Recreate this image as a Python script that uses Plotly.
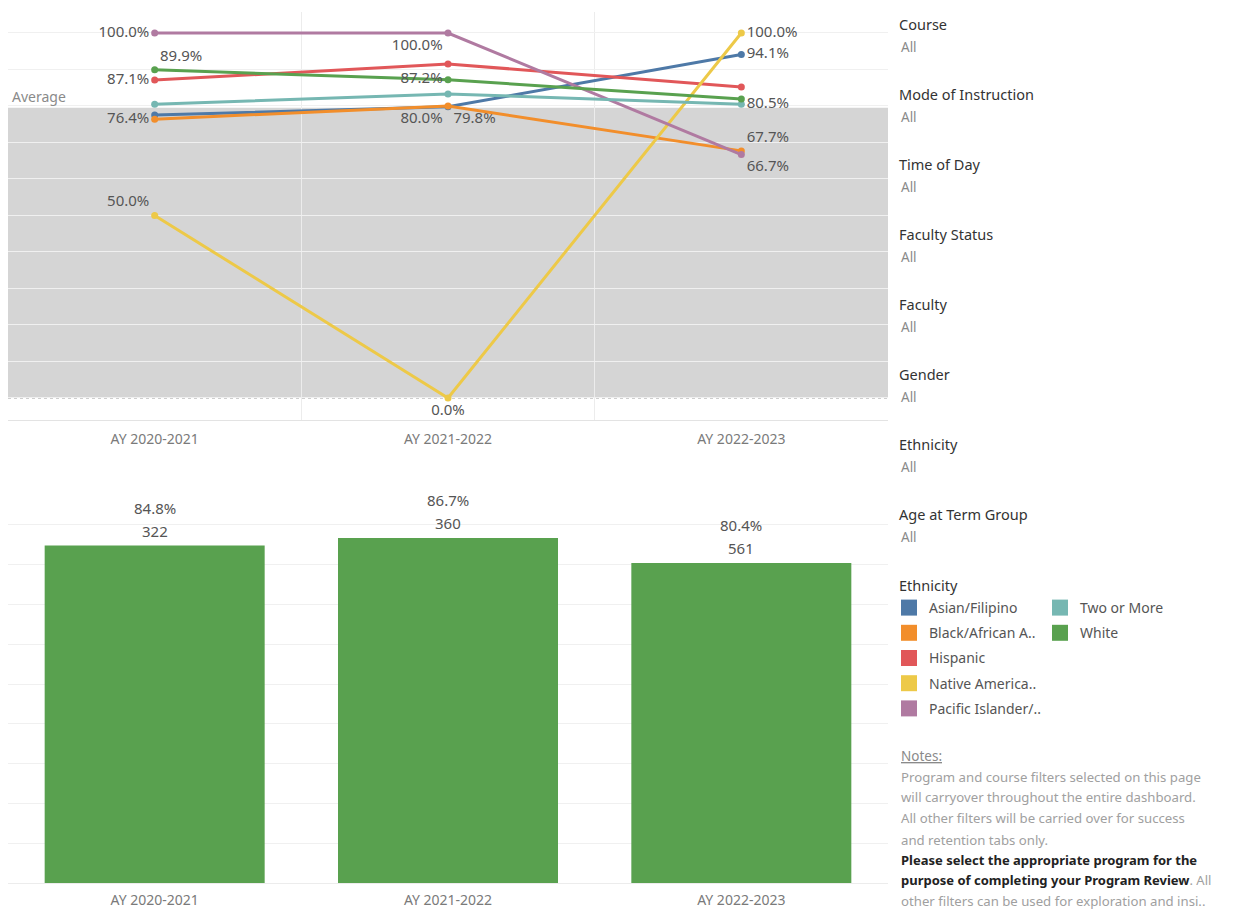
import plotly.graph_objects as go

years = ["AY 2020-2021", "AY 2021-2022", "AY 2022-2023"]

ethnicities = ["Asian/Filipino", "Black/African A..", "Hispanic", "Native America..",
               "Pacific Islander/..", "Two or More", "White"]
colors = ["#4e79a7", "#f28e2b", "#e15759", "#edc948", "#b07aa1", "#76b7b2", "#59a14f"]

asian = [77.5, 79.8, 94.1]
black = [76.4, 80.0, 67.7]
hispanic = [87.1, 91.5, 85.2]
native = [50.0, 0.0, 100.0]
pacific = [100.0, 100.0, 66.7]
two_more = [80.5, 83.3, 80.5]
white = [89.9, 87.2, 81.9]
series = [asian, black, hispanic, native, pacific, two_more, white]

# which points carry a visible label
shown = [
    [False, True, True],
    [True, True, True],
    [True, False, False],
    [True, True, True],
    [True, True, True],
    [False, False, True],
    [True, True, False],
]
positions = [
    ["middle left", "bottom right", "middle right"],
    ["middle left", "bottom left", "top right"],
    ["middle left", "top center", "top center"],
    ["top left", "bottom center", "middle right"],
    ["middle left", "bottom left", "bottom right"],
    ["middle left", "top center", "middle right"],
    ["top right", "middle left", "top center"],
]

average_band = 79.5

bar_pct = [84.8, 86.7, 80.4]
bar_count = [322, 360, 561]

filters = ["Course", "Mode of Instruction", "Time of Day", "Faculty Status",
           "Faculty", "Gender", "Ethnicity", "Age at Term Group"]

notes = [
    ("<u>Notes:</u>", "#8a8a8a", 13.5),
    ("Program and course filters selected on this page", "#a0a0a0", 13.2),
    ("will carryover throughout the entire dashboard.", "#a0a0a0", 13.2),
    ("All other filters will be carried over for success", "#a0a0a0", 13.2),
    ("and retention tabs only.", "#a0a0a0", 13.2),
    ("<b>Please select the appropriate program for the</b>", "#222222", 13),
    ("<b>purpose of completing your Program Review</b><span style='color:#a0a0a0'>. All</span>", "#222222", 13),
    ("other filters can be used for exploration and insi..", "#a0a0a0", 13.2),
]

FONT = "Noto Sans"
W, H = 1233, 909

fig = go.Figure()

for name, col, vals, sh, pos in zip(ethnicities, colors, series, shown, positions):
    txt = [f"{v:.1f}%" if s else "" for v, s in zip(vals, sh)]
    fig.add_trace(go.Scatter(
        x=years, y=vals, mode="lines+markers+text", name=name,
        line=dict(color=col, width=3), marker=dict(color=col, size=7),
        text=txt, textposition=pos,
        textfont=dict(family=FONT, size=15, color="#555555"),
        showlegend=False, xaxis="x", yaxis="y", cliponaxis=False,
    ))

# legend entries (square swatches)
for i, (name, col) in enumerate(zip(ethnicities, colors)):
    fig.add_trace(go.Scatter(
        x=[None], y=[None], mode="markers", name=name,
        marker=dict(symbol="square", size=16, color=col),
        legend="legend" if i < 5 else "legend2",
        legendgroup=name, showlegend=True, xaxis="x", yaxis="y",
    ))

fig.add_trace(go.Bar(
    x=years, y=bar_pct, marker=dict(color="#59a14f", line=dict(width=0)),
    width=0.75, showlegend=False, xaxis="x2", yaxis="y2",
))

for yr, p, c in zip(years, bar_pct, bar_count):
    fig.add_annotation(x=yr, y=p, xref="x2", yref="y2", text=str(c), showarrow=False,
                       yanchor="bottom", yshift=3,
                       font=dict(family=FONT, size=15, color="#555555"))
    fig.add_annotation(x=yr, y=p, xref="x2", yref="y2", text=f"{p:.1f}%", showarrow=False,
                       yanchor="bottom", yshift=26,
                       font=dict(family=FONT, size=15, color="#555555"))

x0, x1 = 8 / W, 888 / W

# reference band
fig.add_shape(type="rect", xref="x domain", yref="y", x0=0, x1=1, y0=0, y1=average_band,
              fillcolor="#d5d5d5", line=dict(width=0), layer="below")
fig.add_shape(type="line", xref="x domain", yref="y", x0=0, x1=1, y0=0, y1=0,
              line=dict(color="#9a9a9a", width=1, dash="dot"), layer="below")
fig.add_annotation(x=0, y=average_band, xref="x domain", yref="y", text="Average",
                   showarrow=False, xanchor="left", yanchor="bottom", xshift=2, yshift=0,
                   font=dict(family=FONT, size=14, color="#8a8a8a"))

axis_font = dict(family=FONT, size=14, color="#7a7a7a")

fig.update_layout(
    width=W, height=H,
    margin=dict(l=0, r=0, t=0, b=0),
    paper_bgcolor="white", plot_bgcolor="white",
    font=dict(family=FONT),
    xaxis=dict(domain=[x0, x1], type="category", range=[-0.5, 2.5],
               tickson="boundaries", showgrid=True, gridcolor="#ececec",
               ticks="", tickfont=axis_font, showline=True, linecolor="#e3e3e3",
               anchor="y", ticklabelstandoff=6, mirror=False),
    yaxis=dict(domain=[1 - 420 / H, 1 - 12 / H], range=[-6.03, 105.75],
               dtick=10, tick0=0, showgrid=True, gridcolor="#f0f0f0",
               zeroline=False, showticklabels=False, anchor="x"),
    xaxis2=dict(domain=[x0, x1], type="category", range=[-0.5, 2.5],
                tickson="boundaries", showgrid=False, ticks="",
                tickfont=axis_font, showline=True, linecolor="#ececec",
                anchor="y2", ticklabelstandoff=4),
    yaxis2=dict(domain=[1 - 883 / H, 1 - 485 / H], range=[0, 100], dtick=10,
                showgrid=True, gridcolor="#f0f0f0", zeroline=False,
                showticklabels=False, anchor="x2"),
    legend=dict(x=889 / W, y=1 - 592 / H, xanchor="left", yanchor="top",
                bgcolor="rgba(0,0,0,0)", borderwidth=0, tracegroupgap=4,
                font=dict(family=FONT, size=14, color="#555555"),
                itemclick=False, itemdoubleclick=False),
    legend2=dict(x=1040 / W, y=1 - 592 / H, xanchor="left", yanchor="top",
                 bgcolor="rgba(0,0,0,0)", borderwidth=0, tracegroupgap=4,
                 font=dict(family=FONT, size=14, color="#555555"),
                 itemclick=False, itemdoubleclick=False),
)

fig.add_annotation(x=897 / W, y=1 - 585 / H, xref="paper", yref="paper",
                   text="Ethnicity", showarrow=False, xanchor="left", yanchor="middle",
                   font=dict(family=FONT, size=14.5, color="#333333"))

for k, f in enumerate(filters):
    fig.add_annotation(x=897 / W, y=1 - (24 + 70 * k) / H, xref="paper", yref="paper",
                       text=f, showarrow=False, xanchor="left", yanchor="middle",
                       font=dict(family=FONT, size=14.5, color="#333333"))
    fig.add_annotation(x=899 / W, y=1 - (47 + 70 * k) / H, xref="paper", yref="paper",
                       text="All", showarrow=False, xanchor="left", yanchor="middle",
                       font=dict(family=FONT, size=13.5, color="#8a8a8a"))

note_y = [756, 777, 797, 818, 840, 860, 880, 901]
for (t, c, s), yy in zip(notes, note_y):
    fig.add_annotation(x=899 / W, y=1 - yy / H, xref="paper", yref="paper",
                       text=t, showarrow=False, xanchor="left", yanchor="middle",
                       font=dict(family=FONT, size=s, color=c))

fig.write_html("out.html")
